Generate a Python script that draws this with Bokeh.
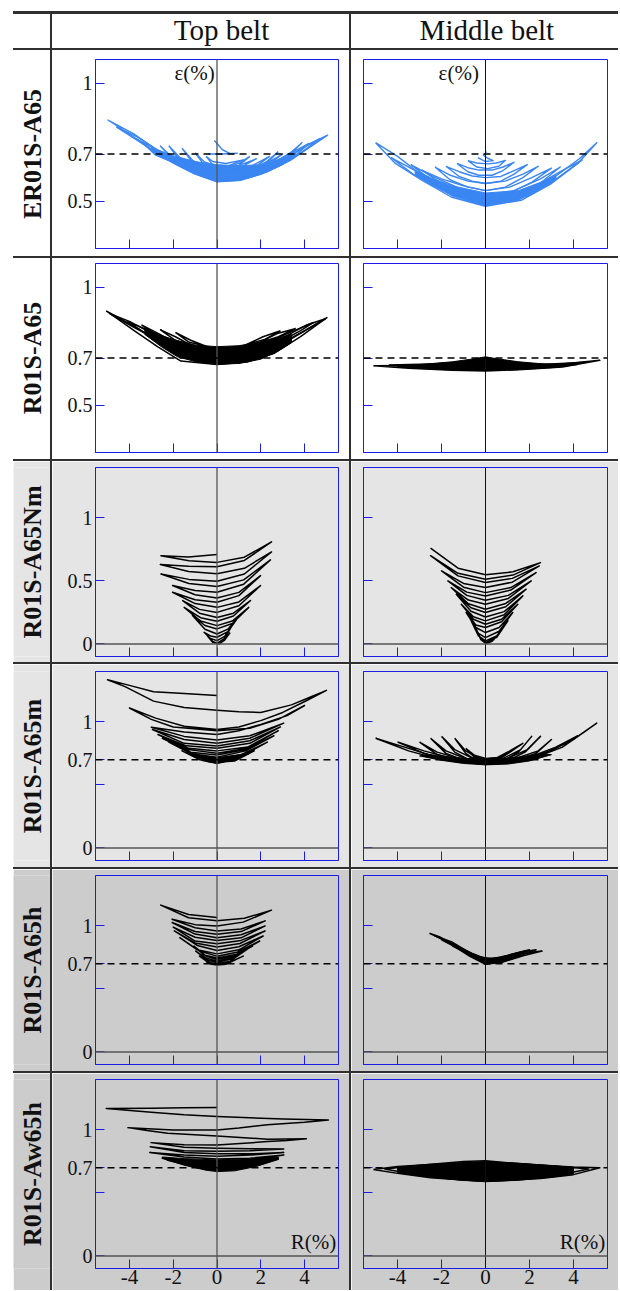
from math import pi
from bokeh.plotting import figure
from bokeh.models import Range1d, FixedTicker, PrintfTickFormatter, Span, Label, GridBox, Spacer
from bokeh.layouts import row, column
from bokeh.core.properties import value
from bokeh.embed import file_html
from bokeh.resources import INLINE

# ---------------- data ----------------
column_titles = ["Top belt", "Middle belt"]
specimens = ["ER01S-A65", "R01S-A65", "R01S-A65Nm", "R01S-A65m", "R01S-A65h", "R01S-Aw65h"]
x_ticks = [-4, -2, 0, 2, 4]
y_labels_narrow = [0.5, 0.7, 1.0]
y_labels_nm = [0, 0.5, 1.0]
y_labels_wide = [0, 0.7, 1.0]
y_unlabelled_wide = [0.5]

# ER01S-A65, top belt (blue)
er_top_loops = [
    [(-5.0,0.845),(-3.8,0.772),(-2.86,0.709),(-1.95,0.659),(-1.05,0.617),(0,0.582),(1.08,0.589),(2.29,0.624),(3.35,0.673),(4.26,0.73),(5.05,0.78),(4.2,0.742),(3.3,0.688),(2.2,0.64),(1.0,0.607),(0,0.60),(-1.0,0.63),(-2.0,0.675),(-2.9,0.725),(-3.8,0.785),(-5.0,0.845)],
    [(-4.6,0.815),(-3.6,0.755),(-2.6,0.695),(-1.5,0.64),(0,0.59),(1.5,0.6),(2.8,0.648),(3.9,0.71),(4.7,0.765),(3.9,0.725),(2.8,0.665),(1.5,0.618),(0,0.608),(-1.5,0.655),(-2.6,0.71),(-3.6,0.77),(-4.6,0.815)],
    [(-3.7,0.765),(-2.8,0.705),(-1.8,0.655),(-0.8,0.615),(0.3,0.595),(1.5,0.605),(2.6,0.64),(3.6,0.695),(4.2,0.745),(3.5,0.71),(2.5,0.66),(1.4,0.625),(0.3,0.615),(-0.8,0.632),(-1.8,0.672),(-2.8,0.72),(-3.7,0.765)],
    [(-3.0,0.725),(-2.3,0.685),(-1.4,0.64),(-0.4,0.605),(0.8,0.6),(2.0,0.625),(3.0,0.665),(3.6,0.72),(2.9,0.68),(1.9,0.64),(0.8,0.618),(-0.4,0.622),(-1.4,0.655),(-2.3,0.695),(-3.0,0.725)],
    [(-2.2,0.735),(-1.7,0.672),(-0.9,0.632),(0,0.608),(1.0,0.608),(2.0,0.632),(3.0,0.70),(2.0,0.648),(1.0,0.625),(0,0.625),(-0.9,0.648),(-1.7,0.685),(-2.2,0.735)],
    [(-1.6,0.725),(-1.1,0.66),(-0.4,0.625),(0.5,0.615),(1.5,0.628),(2.4,0.69),(1.5,0.645),(0.5,0.632),(-0.4,0.64),(-1.1,0.672),(-1.6,0.725)],
    [(-1.0,0.705),(-0.6,0.655),(0,0.632),(0.8,0.63),(1.8,0.68),(0.9,0.648),(0,0.648),(-0.6,0.668),(-1.0,0.705)],
    [(-0.5,0.69),(-0.2,0.655),(0.4,0.645),(1.2,0.675),(0.4,0.66),(-0.2,0.668),(-0.5,0.69)],
    [(-3.4,0.748),(-2.9,0.71),(-2.2,0.672),(-2.8,0.695),(-3.4,0.748)],
    [(-2.6,0.735),(-2.1,0.69),(-1.5,0.655),(-2.0,0.675),(-2.6,0.735)],
    [(3.9,0.75),(3.3,0.70),(2.6,0.66),(3.2,0.685),(3.9,0.75)],
    [(2.8,0.71),(2.3,0.67),(1.7,0.64),(2.2,0.655),(2.8,0.71)],
    [(1.5,0.69),(1.0,0.66),(0.5,0.645),(1.0,0.652),(1.5,0.69)],
    [(-0.12,0.757),(0.25,0.718),(0.6,0.702)],
    [(-0.4,0.70),(0.2,0.70),(0.95,0.703)],
]
er_top_core = [(-3.0,0.717),(-2.0,0.662),(-1.0,0.615),(0,0.583),(1.0,0.588),(2.0,0.613),(3.0,0.655),(3.6,0.69),
               (3.6,0.705),(3.0,0.68),(2.0,0.655),(1.0,0.65),(0,0.655),(-1.0,0.668),(-2.0,0.693),(-3.0,0.728)]

# ER01S-A65, middle belt (blue)
er_mid_loops = [
    [(-5.0,0.748),(-4.1,0.66),(-2.9,0.589),(-1.56,0.518),(0,0.479),(1.62,0.504),(3.0,0.575),(4.2,0.66),(5.06,0.748),(4.3,0.682),(3.1,0.60),(1.6,0.528),(0,0.50),(-1.6,0.54),(-2.9,0.61),(-4.0,0.69),(-5.0,0.748)],
    [(-4.3,0.685),(-3.3,0.615),(-2.0,0.55),(0,0.49),(2.0,0.525),(3.3,0.60),(4.4,0.675),(3.4,0.625),(2.0,0.55),(0,0.51),(-2.0,0.57),(-3.3,0.635),(-4.3,0.685)],
    [(-3.4,0.655),(-2.4,0.585),(-1.2,0.53),(0,0.50),(1.3,0.52),(2.4,0.57),(3.4,0.645),(2.5,0.595),(1.3,0.545),(0,0.525),(-1.2,0.555),(-2.4,0.605),(-3.4,0.655)],
    [(-2.9,0.632),(-2.0,0.575),(-1.0,0.54),(0,0.515),(1.1,0.535),(2.1,0.58),(3.0,0.64),(2.1,0.60),(1.1,0.56),(0,0.545),(-1.0,0.565),(-2.0,0.595),(-2.9,0.632)],
    [(-2.3,0.645),(-1.6,0.59),(-0.8,0.56),(0,0.545),(0.9,0.56),(1.7,0.60),(2.4,0.648),(1.7,0.615),(0.9,0.585),(0,0.575),(-0.8,0.585),(-1.6,0.61),(-2.3,0.645)],
    [(-1.8,0.648),(-1.2,0.605),(-0.6,0.585),(0,0.575),(0.7,0.585),(1.3,0.615),(1.9,0.655),(1.3,0.63),(0.7,0.605),(0,0.60),(-0.6,0.607),(-1.2,0.625),(-1.8,0.648)],
    [(-1.3,0.66),(-0.8,0.625),(-0.3,0.61),(0.3,0.61),(0.8,0.63),(1.3,0.665),(0.8,0.645),(0.3,0.632),(-0.3,0.632),(-0.8,0.642),(-1.3,0.66)],
    [(-0.8,0.672),(-0.4,0.645),(0.1,0.638),(0.6,0.648),(0.9,0.673),(0.5,0.662),(0.1,0.658),(-0.4,0.662),(-0.8,0.672)],
    [(-0.35,0.685),(0,0.668),(0.35,0.672),(0.1,0.682),(-0.1,0.695),(0.05,0.71)],
]
er_mid_core = [(-3.2,0.61),(-2.5,0.572),(-1.5,0.522),(0,0.48),(1.5,0.505),(2.5,0.55),(3.2,0.59),
               (3.2,0.61),(2.5,0.58),(1.5,0.545),(0,0.535),(-1.5,0.565),(-2.5,0.60),(-3.2,0.63)]

# R01S-A65, top belt
a65_top_loops = [
    [(-5.06,0.899),(-3.8,0.817),(-2.7,0.747),(-1.65,0.687),(0,0.673),(1.38,0.683),(2.59,0.719),(3.8,0.789),(5.02,0.871),(3.9,0.81),(2.7,0.75),(1.4,0.71),(0,0.70),(-1.6,0.72),(-2.7,0.772),(-3.9,0.84),(-5.06,0.899)],
    [(-4.9,0.888),(-3.9,0.835),(-2.9,0.785),(-1.9,0.74),(-0.9,0.708),(0.3,0.695),(1.6,0.705),(2.9,0.755),(4.2,0.825),(4.95,0.866),(4.1,0.84),(2.9,0.78),(1.5,0.73),(0.2,0.718),(-1.0,0.735),(-2.0,0.765),(-3.0,0.805),(-4.0,0.855),(-4.9,0.888)],
    [(-4.1,0.855),(-3.1,0.795),(-2.1,0.745),(-1.0,0.712),(0,0.70),(1.3,0.712),(2.6,0.755),(3.8,0.815),(4.4,0.85),(3.5,0.815),(2.4,0.77),(1.2,0.735),(0,0.727),(-1.1,0.74),(-2.2,0.775),(-3.2,0.82),(-4.1,0.855)],
    [(-3.45,0.84),(-2.6,0.785),(-1.5,0.735),(-2.6,0.80),(-3.45,0.84)],
    [(-2.6,0.82),(-1.9,0.775),(-1.0,0.745),(-1.9,0.79),(-2.6,0.82)],
    [(-1.9,0.808),(-1.3,0.768),(-0.5,0.75),(-1.2,0.775),(-1.9,0.808)],
    [(3.6,0.825),(2.8,0.79),(1.8,0.76),(2.8,0.805),(3.6,0.825)],
    [(2.9,0.815),(2.2,0.78),(1.3,0.755),(2.1,0.79),(2.9,0.815)],
]
a65_top_core = [(-3.3,0.80),(-2.5,0.745),(-1.8,0.705),(-1.0,0.685),(0,0.673),(1.0,0.677),(2.0,0.695),(2.8,0.73),(3.4,0.765),
                (3.4,0.80),(2.8,0.785),(2.0,0.768),(1.0,0.752),(0,0.748),(-1.0,0.755),(-2.0,0.778),(-2.8,0.805),(-3.3,0.825)]

# R01S-A65, middle belt
a65_mid_loops = [
    [(-5.1,0.667),(-3.5,0.657),(-1.5,0.648),(0,0.645),(1.5,0.65),(3.5,0.662),(5.2,0.69),(3.5,0.675),(1.5,0.67),(0,0.675),(-1.5,0.672),(-3.5,0.668),(-5.1,0.667)],
    [(-4.4,0.67),(-2.5,0.66),(0,0.652),(2.5,0.66),(4.6,0.682),(2.5,0.672),(0,0.685),(-2.5,0.675),(-4.4,0.67)],
]
a65_mid_core = [(-4.0,0.662),(-3.0,0.656),(-1.5,0.649),(0,0.647),(1.5,0.651),(3.0,0.659),(4.2,0.672),
                (4.2,0.679),(3.0,0.672),(1.5,0.684),(0.5,0.697),(0,0.705),(-0.5,0.697),(-1.5,0.684),(-3.0,0.672),(-4.0,0.669)]

# R01S-A65Nm, top belt (one continuous path)
nm_top_loops = [[
    (0,0.709),(-1.3,0.69),(-2.56,0.70),(-1.28,0.66),(0,0.647),(1.25,0.688),(2.49,0.81),(1.25,0.662),(0,0.613),
    (-1.3,0.617),(-2.59,0.63),(-1.3,0.575),(0,0.556),(1.25,0.60),(2.49,0.73),(1.25,0.555),(0,0.497),
    (-1.28,0.512),(-2.56,0.555),(-1.28,0.48),(0,0.455),(1.22,0.508),(2.44,0.667),(1.22,0.474),(0,0.41),
    (-1.0,0.423),(-2.03,0.463),(-1.0,0.39),(0,0.365),(1.0,0.409),(1.99,0.542),(1.0,0.383),(0,0.33),
    (-1.0,0.35),(-2.03,0.41),(-1.0,0.32),(0,0.29),(1.0,0.333),(1.99,0.463),(1.0,0.303),(0,0.25),
    (-0.8,0.274),(-1.57,0.344),(-0.8,0.244),(0,0.21),(0.75,0.244),(1.53,0.344),(0.75,0.221),(0,0.18),
    (-0.75,0.208),(-1.5,0.29),(-0.75,0.181),(0,0.145),(0.7,0.181),(1.45,0.29),(0.7,0.162),(0,0.119),
    (-0.55,0.146),(-1.12,0.225),(-0.55,0.116),(0,0.079),(0.5,0.117),(1.05,0.23),(0.5,0.097),(0,0.053),
    (-0.3,0.063),(-0.59,0.092),(-0.3,0.043),(0,0.026),(0.35,0.06),(0.74,0.16),(0.35,0.044),(0,0.005),
    (-0.2,0.02),(-0.44,0.065),(-0.2,0.012),(0.1,0.0),(0.35,0.03),(0.6,0.09),
]]
nm_top_core = []

# R01S-A65Nm, middle belt
nm_mid_loops = [[
    (-2.5,0.76),(-1.25,0.601),(0,0.548),(1.25,0.572),(2.5,0.645),(1.25,0.546),(0,0.513),
    (-1.25,0.56),(-2.5,0.70),(-1.25,0.54),(0,0.487),(1.22,0.52),(2.45,0.619),(1.22,0.49),(0,0.447),
    (-1.0,0.48),(-2.0,0.58),(-1.0,0.45),(0,0.407),(1.15,0.447),(2.3,0.566),(1.15,0.427),(0,0.381),
    (-0.85,0.411),(-1.71,0.50),(-0.85,0.385),(0,0.347),(1.04,0.385),(2.08,0.50),(1.04,0.361),(0,0.315),
    (-0.78,0.348),(-1.56,0.447),(-0.78,0.318),(0,0.275),(0.92,0.321),(1.85,0.434),(0.92,0.295),(0,0.249),
    (-0.66,0.287),(-1.33,0.394),(-0.66,0.259),(0,0.214),(0.85,0.256),(1.7,0.381),(0.85,0.232),(0,0.183),
    (-0.55,0.216),(-1.1,0.315),(-0.55,0.196),(0,0.156),(0.73,0.196),(1.47,0.315),(0.73,0.176),(0,0.13),
    (-0.44,0.15),(-0.88,0.249),(-0.44,0.13),(0,0.09),(0.62,0.13),(1.24,0.249),(0.62,0.10),(0,0.05),
    (-0.32,0.083),(-0.65,0.183),(-0.32,0.064),(0,0.024),(0.51,0.064),(1.02,0.183),(0.51,0.053),(0,0.01),
    (-0.21,0.037),(-0.42,0.117),(-0.21,0.033),(0,0.005),(0.35,0.03),(0.71,0.103),(0.3,0.02),(0,0.0),(0.41,0.037),
]]
nm_mid_core = []

# R01S-A65m, top belt
m_top_loops = [[
    (0,1.21),(-1.5,1.225),(-2.9,1.24),(-4.0,1.29),(-5.0,1.335),(-4.2,1.28),(-2.9,1.165),(-1.5,1.115),(0,1.093),
    (1.0,1.08),(2.0,1.075),(3.4,1.135),(4.3,1.20),(5.0,1.25),(4.1,1.17),(3.0,1.075),(2.0,1.01),(1.0,0.96),(0,0.94),
    (-1.5,0.965),(-2.8,1.03),(-4.0,1.11),(-3.0,1.02),(-2.0,0.96),(0,0.93),(1.5,0.95),(2.8,1.02),(4.0,1.13),
    (3.2,1.05),(2.0,0.98),(1.0,0.93),(0,0.90),(-1.5,0.92),(-3.0,0.958),
    (-1.5,0.885),(0,0.857),(1.5,0.89),(3.05,0.99),(1.5,0.87),(0,0.83),(-1.5,0.86),(-2.95,0.94),
    (-1.5,0.83),(0,0.809),(1.5,0.85),(2.9,0.96),(1.5,0.83),(0,0.79),(-1.4,0.81),(-2.7,0.90),
    (-1.3,0.79),(0,0.77),(1.4,0.80),(2.8,0.93),(1.4,0.79),(0,0.752),(-1.3,0.78),(-2.5,0.87),
    (-1.2,0.76),(0,0.738),(1.3,0.78),(2.6,0.89),(1.3,0.77),(0,0.72),(-1.1,0.745),(-2.2,0.84),
    (-1.0,0.73),(0,0.704),(1.1,0.74),(2.3,0.84),(1.1,0.725),(0,0.685),(-0.8,0.70),(-1.6,0.77),
    (-0.7,0.695),(0,0.671),(0.8,0.70),(1.7,0.77),(0.8,0.69),(0,0.68),
]]
m_top_core = [(-1.4,0.755),(-0.44,0.685),(0,0.671),(0.77,0.698),(1.5,0.75),(0.8,0.735),(0,0.715),(-0.8,0.735)]

# R01S-A65m, middle belt
m_mid_loops = [
    [(-5.0,0.87),(-3.5,0.77),(-2.0,0.70),(0,0.662),(2.0,0.70),(3.5,0.80),(5.06,0.99),(4.0,0.86),(2.6,0.745),(1.0,0.69),(0,0.68),(-2.0,0.71),(-3.5,0.79),(-5.0,0.87)],
    [(-4.0,0.84),(-2.8,0.75),(-1.5,0.69),(0,0.665),(1.5,0.69),(3.0,0.77),(4.2,0.89),(3.2,0.80),(2.0,0.72),(0,0.685),(-1.5,0.71),(-2.8,0.77),(-4.0,0.84)],
    [(-3.0,0.84),(-2.2,0.74),(-1.0,0.68),(0,0.665),(1.2,0.685),(2.3,0.75),(3.0,0.86),(2.4,0.77),(1.2,0.70),(0,0.69),(-1.0,0.70),(-2.2,0.76),(-3.0,0.84)],
    [(-2.5,0.87),(-1.8,0.75),(-0.9,0.69),(0,0.668),(1.0,0.69),(1.8,0.76),(2.5,0.885),(1.9,0.78),(1.0,0.71),(0,0.695),(-0.9,0.71),(-1.8,0.77),(-2.5,0.87)],
    [(-2.0,0.885),(-1.4,0.76),(-0.7,0.695),(0,0.672),(0.8,0.69),(1.5,0.76),(2.1,0.885),(1.6,0.78),(0.8,0.71),(0,0.70),(-0.7,0.72),(-1.4,0.78),(-2.0,0.885)],
    [(-1.4,0.87),(-0.9,0.75),(-0.4,0.69),(0,0.675),(0.6,0.70),(1.2,0.77),(1.7,0.83),(1.2,0.78),(0.6,0.715),(0,0.705),(-0.4,0.72),(-0.9,0.77),(-1.4,0.87)],
    [(-0.9,0.79),(-0.5,0.72),(0,0.685),(0.5,0.70),(1.0,0.76),(0.5,0.715),(0,0.71),(-0.5,0.735),(-0.9,0.79)],
]
m_mid_core = [(-3.0,0.73),(-2.0,0.695),(-1.0,0.67),(0,0.659),(1.0,0.665),(2.0,0.69),(3.0,0.74),
              (2.5,0.745),(1.5,0.72),(0.5,0.705),(0,0.70),(-0.5,0.705),(-1.5,0.72),(-2.5,0.74)]

# R01S-A65h, top belt
h_top_loops = [[
    (0,1.066),(-1.3,1.09),(-2.57,1.165),(-1.3,1.065),(0,1.04),(1.25,1.06),(2.49,1.125),(1.2,1.03),(0,1.0),
    (-1.0,1.01),(-2.05,1.053),(-1.0,0.985),(0,0.96),(1.1,0.975),(2.2,1.04),(1.1,0.955),(0,0.933),
    (-1.0,0.955),(-2.05,1.027),(-1.0,0.935),(0,0.906),(1.1,0.93),(2.2,1.0),(1.1,0.905),(0,0.885),
    (-1.0,0.91),(-2.0,0.99),(-1.0,0.88),(0,0.858),(1.1,0.885),(2.2,0.96),(1.05,0.86),(0,0.832),
    (-1.0,0.865),(-1.95,0.96),(-0.9,0.845),(0,0.805),(1.0,0.835),(2.11,0.92),(1.0,0.81),(0,0.778),
    (-0.9,0.81),(-1.7,0.906),(-0.8,0.80),(0,0.76),(0.9,0.79),(1.95,0.88),(0.9,0.775),(0,0.745),
    (-0.6,0.77),(-1.05,0.84),(-0.5,0.76),(0,0.733),(0.8,0.765),(1.62,0.84),(0.7,0.75),(0,0.72),
    (-0.5,0.745),(-0.97,0.80),(-0.4,0.725),(0,0.712),(0.6,0.735),(1.37,0.813),(0.6,0.72),(0,0.70),
    (-0.4,0.71),(-0.8,0.76),(-0.3,0.705),(0,0.693),(0.55,0.71),(1.2,0.76),(0.5,0.705),(0,0.69),
    (-0.3,0.698),(-0.48,0.715),(0,0.69),(0.4,0.695),(0.87,0.733),
]]
h_top_core = []

# R01S-A65h, middle belt
h_mid_loops = [
    [(-2.55,0.941),(-2.1,0.905),(-1.56,0.853),(-0.73,0.76),(0,0.695),(0.75,0.712),(1.75,0.765),(2.57,0.80),(1.8,0.785),(0.9,0.745),(0,0.728),(-0.8,0.78),(-1.6,0.865),(-2.1,0.915),(-2.55,0.941)],
    [(-2.35,0.925),(-1.5,0.855),(-0.7,0.768),(0,0.705),(0.8,0.722),(1.6,0.765),(2.3,0.81),(1.6,0.79),(0.8,0.748),(0,0.733),(-0.7,0.785),(-1.5,0.87),(-2.35,0.925)],
    [(-2.0,0.89),(-1.3,0.825),(-0.6,0.765),(0,0.715),(0.7,0.73),(1.4,0.765),(2.0,0.81),(1.4,0.785),(0.7,0.75),(0,0.74),(-0.6,0.782),(-1.3,0.84),(-2.0,0.89)],
    [(-1.5,0.84),(-0.9,0.79),(-0.3,0.74),(0.3,0.72),(0.9,0.74),(1.8,0.80),(1.0,0.765),(0.3,0.74),(-0.3,0.755),(-0.9,0.80),(-1.5,0.84)],
]
h_mid_core = [(-1.5,0.845),(-0.7,0.762),(0,0.697),(0.8,0.714),(1.6,0.76),(1.6,0.78),(0.8,0.745),(0,0.728),(-0.7,0.785),(-1.5,0.862)]

# R01S-Aw65h, top belt
aw_top_loops = [[
    (0,1.177),(-1.5,1.175),(-3.0,1.172),(-5.06,1.169),(-3.0,1.14),(-1.5,1.12),(0,1.106),(1.5,1.096),(3.05,1.087),
    (5.09,1.079),(4.0,1.06),(2.3,1.04),(1.0,1.015),(0,1.0),(-2.0,1.0),(-4.07,1.018),(-3.2,0.995),(-2.25,0.974),
    (0,0.952),(2.3,0.926),(4.08,0.929),(3.2,0.915),(2.3,0.907),(0,0.88),(-1.5,0.882),(-3.01,0.899),
    (-1.5,0.862),(0,0.855),(1.5,0.85),(3.05,0.848),(1.5,0.835),(0,0.83),(-1.5,0.835),(-3.05,0.867),
    (-1.5,0.82),(0,0.81),(1.5,0.81),(3.05,0.82),(1.5,0.80),(0,0.79),(-1.5,0.80),(-3.07,0.82),
    (-1.5,0.785),(0,0.77),(1.5,0.775),(3.05,0.80),(1.5,0.76),(0,0.745),(-1.5,0.76),(-2.5,0.775),
    (-1.2,0.73),(0,0.70),(1.2,0.72),(2.8,0.77),(1.2,0.70),(0,0.69),(-1.2,0.715),(-2.3,0.76),
]]
aw_top_core = [(-2.5,0.775),(-1.5,0.72),(-0.5,0.68),(0,0.669),(0.8,0.675),(1.8,0.71),(2.8,0.765),
               (2.8,0.785),(1.5,0.772),(0,0.762),(-1.5,0.772),(-2.5,0.785)]

# R01S-Aw65h, middle belt
aw_mid_loops = [
    [(-5.1,0.685),(-4.0,0.655),(-2.5,0.62),(0,0.59),(2.5,0.615),(4.0,0.645),(5.2,0.70),(4.0,0.705),(2.5,0.72),(0,0.745),(-2.5,0.725),(-4.0,0.71),(-5.1,0.685)],
    [(-4.6,0.69),(-3.0,0.64),(-1.0,0.60),(0,0.595),(1.0,0.60),(3.0,0.63),(4.7,0.69),(3.0,0.715),(1.0,0.74),(0,0.755),(-1.0,0.75),(-3.0,0.72),(-4.6,0.69)],
]
aw_mid_core = [(-4.0,0.66),(-3.0,0.635),(-1.5,0.607),(0,0.59),(1.5,0.60),(3.0,0.625),(4.0,0.65),
               (4.0,0.70),(3.0,0.715),(1.5,0.735),(0,0.748),(-1.5,0.735),(-3.0,0.715),(-4.0,0.70)]

# ---------------- styling ----------------
AX = "#1c1ce8"
SERIF = "Liberation Serif"
LINE_COL = "#303030"
BLUE = "#3a86f2"
BLACK = "#000000"

panels = [
    [(er_top_loops, er_top_core, BLUE), (er_mid_loops, er_mid_core, BLUE)],
    [(a65_top_loops, a65_top_core, BLACK), (a65_mid_loops, a65_mid_core, BLACK)],
    [(nm_top_loops, nm_top_core, BLACK), (nm_mid_loops, nm_mid_core, BLACK)],
    [(m_top_loops, m_top_core, BLACK), (m_mid_loops, m_mid_core, BLACK)],
    [(h_top_loops, h_top_core, BLACK), (h_mid_loops, h_mid_core, BLACK)],
    [(aw_top_loops, aw_top_core, BLACK), (aw_mid_loops, aw_mid_core, BLACK)],
]

row_cfg = [
    dict(h=206, bt=9, yr=(0.3, 1.1), lab=y_labels_narrow, unl=[], bg="#ffffff", zero=False, dash=True),
    dict(h=201, bt=5, yr=(0.3, 1.1), lab=y_labels_narrow, unl=[], bg="#ffffff", zero=False, dash=True),
    dict(h=201, bt=6, yr=(-0.1, 1.4), lab=y_labels_nm, unl=[], bg="#e5e5e5", zero=True, dash=False),
    dict(h=203, bt=7, yr=(-0.1, 1.4), lab=y_labels_wide, unl=y_unlabelled_wide, bg="#e5e5e5", zero=True, dash=True),
    dict(h=202, bt=6, yr=(-0.1, 1.4), lab=y_labels_wide, unl=y_unlabelled_wide, bg="#cccccc", zero=True, dash=True),
    dict(h=217, bt=6, yr=(-0.1, 1.4), lab=y_labels_wide, unl=y_unlabelled_wide, bg="#cccccc", zero=True, dash=True),
]

LEFT_PAD = 13
TOP_PAD = 11
LABEL_W = 37
RULE = 2
COL_W = [297, 267]
BORDER_L = [43, 12]
BORDER_R = [11, 11]
FRAME_H = 189
HEADER_H = 34
GRID_W = LABEL_W + RULE + COL_W[0] + RULE + COL_W[1]


def rule(width, height):
    return Spacer(width=width, height=height, styles={"background-color": LINE_COL})


def blank(width, height, bg):
    p = figure(width=width, height=height, x_range=Range1d(0, width), y_range=Range1d(0, height),
               output_backend="svg", toolbar_location=None, x_axis_type=None, y_axis_type=None,
               min_border=0, min_border_left=0, min_border_right=0, min_border_top=0, min_border_bottom=0)
    p.grid.visible = False
    p.outline_line_color = None
    p.background_fill_color = bg
    p.border_fill_color = bg
    return p


def style_axis(ax):
    ax.axis_line_color = AX
    ax.axis_line_alpha = 1.0
    ax.major_tick_line_color = AX
    ax.minor_tick_line_color = AX
    ax.major_tick_in = 9
    ax.major_tick_out = 0
    ax.minor_tick_in = 9
    ax.minor_tick_out = 0
    ax.major_label_text_font = SERIF
    ax.major_label_text_color = "#111111"
    ax.major_label_text_font_size = "20px"


def make_panel(ri, ci):
    cfg = row_cfg[ri]
    loops, core, color = panels[ri][ci]
    bb = cfg["h"] - cfg["bt"] - FRAME_H
    p = figure(width=COL_W[ci], height=cfg["h"], x_range=Range1d(-5.55, 5.55), y_range=Range1d(*cfg["yr"]),
               output_backend="svg", toolbar_location=None,
               min_border_left=BORDER_L[ci], min_border_right=BORDER_R[ci],
               min_border_top=cfg["bt"], min_border_bottom=bb)
    p.grid.visible = False
    p.background_fill_color = cfg["bg"]
    p.border_fill_color = cfg["bg"]
    p.outline_line_color = AX
    p.outline_line_alpha = 1.0
    p.outline_line_width = 1
    last = ri == len(row_cfg) - 1

    style_axis(p.xaxis[0])
    style_axis(p.yaxis[0])

    if last:
        p.xaxis[0].ticker = FixedTicker(ticks=x_ticks)
        p.xaxis[0].major_label_standoff = 1
        p.xaxis[0].major_label_text_font_size = "21px"
    else:
        p.xaxis[0].ticker = FixedTicker(ticks=[], minor_ticks=x_ticks)
        p.xaxis[0].major_label_standoff = 0
    p.xaxis[0].formatter = PrintfTickFormatter(format="%d")

    if ci == 0:
        p.yaxis[0].ticker = FixedTicker(ticks=cfg["lab"], minor_ticks=cfg["unl"])
        p.yaxis[0].major_label_standoff = 3
    else:
        p.yaxis[0].ticker = FixedTicker(ticks=[], minor_ticks=sorted(cfg["lab"] + cfg["unl"]))
        p.yaxis[0].major_label_standoff = 0
    p.yaxis[0].formatter = PrintfTickFormatter(format="%g")

    lw = 1.4 if color == BLUE else 1.5
    if core:
        p.patch([q[0] for q in core], [q[1] for q in core], fill_color=color, line_color=color, line_width=1)
    xs = [[q[0] for q in lp] for lp in loops]
    ys = [[q[1] for q in lp] for lp in loops]
    p.multi_line(xs, ys, line_color=color, line_width=lw, line_join="round")

    p.add_layout(Span(location=0, dimension="height", line_color="#555555" if ci == 0 else "#111111",
                      line_width=1.3 if ci == 0 else 1.0))
    if cfg["zero"]:
        p.add_layout(Span(location=0, dimension="width", line_color="#555555", line_width=1.5))
    if cfg["dash"]:
        p.add_layout(Span(location=0.7, dimension="width", line_color="black", line_width=1.6, line_dash="7 5"))

    if ri == 0:
        p.add_layout(Label(x=-0.1 if ci == 0 else -0.3, y=1.095, text="ε(%)", text_font=SERIF,
                           text_font_size="21px", text_align="right", text_baseline="top", text_color="#111111"))
    if last:
        p.add_layout(Label(x=5.45, y=0.015, text="R(%)", text_font=SERIF,
                           text_font_size="21px", text_align="right", text_baseline="bottom", text_color="#111111"))
    return p


# grid columns: label | rule | top belt | rule | middle belt
children = []
r = 0
children.append((rule(GRID_W, 3), r, 0, 1, 5))   # thick top rule
r += 1


def content_row(r, cells, h):
    children.append((cells[0], r, 0))
    children.append((rule(RULE, h), r, 1))
    children.append((cells[1], r, 2))
    children.append((rule(RULE, h), r, 3))
    children.append((cells[2], r, 4))


head_x = [154.0, 135.0]
heads = []
for ci, title in enumerate(column_titles):
    hp = blank(COL_W[ci], HEADER_H, "#ffffff")
    hp.text(x=[head_x[ci]], y=[19], text=[title], text_font=value(SERIF), text_font_size="29px",
            text_align="center", text_baseline="middle", text_color="#111111")
    heads.append(hp)
content_row(r, [blank(LABEL_W, HEADER_H, "#ffffff")] + heads, HEADER_H)
r += 1

for ri, name in enumerate(specimens):
    cfg = row_cfg[ri]
    children.append((rule(GRID_W, RULE), r, 0, 1, 5))
    r += 1
    lp = blank(LABEL_W, cfg["h"], cfg["bg"])
    lp.text(x=[LABEL_W / 2 + 0.5], y=[cfg["h"] / 2], text=[name], angle=pi / 2, text_font=value(SERIF),
            text_font_style="bold", text_font_size="26px", text_align="center", text_baseline="middle",
            text_color="#111111")
    content_row(r, [lp, make_panel(ri, 0), make_panel(ri, 1)], cfg["h"])
    r += 1

grid = GridBox(children=children, spacing=0)
total_h = 3 + HEADER_H + sum(RULE + c["h"] for c in row_cfg)
layout = column(Spacer(width=LEFT_PAD + GRID_W, height=TOP_PAD),
                row(Spacer(width=LEFT_PAD, height=total_h), grid))

open("out.html", "w").write(file_html(layout, INLINE))
